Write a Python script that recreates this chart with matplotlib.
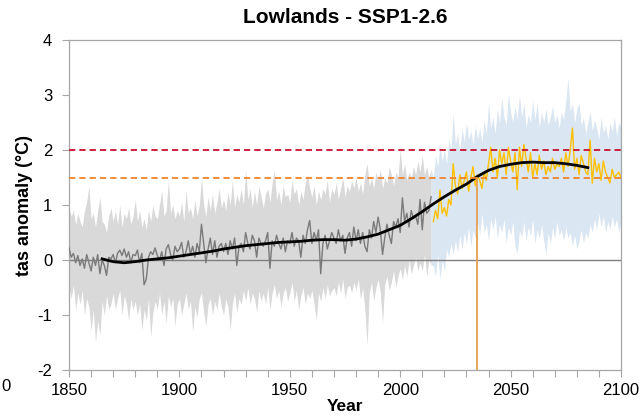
import numpy as np
import matplotlib
matplotlib.use("Agg")
import matplotlib.pyplot as plt

plt.rcParams['font.family'] = ['Liberation Sans', 'DejaVu Sans']
plt.rcParams['axes.unicode_minus'] = False

# ---------------- data ----------------
hist_years = list(range(1850, 2015))
hist_tas = [
    0.22, 0.05, 0.12, -0.05, 0.08, -0.10, 0.02, -0.15, 0.10, -0.05,
    -0.20, 0.05, -0.10, 0.10, -0.25, 0.00, -0.10, -0.28, 0.05, 0.02,
    0.10, -0.05, 0.12, 0.18, 0.08, 0.20, 0.05, 0.15, -0.05, 0.10,
    0.08, 0.18, -0.05, 0.12, -0.45, -0.35, 0.05, 0.15, 0.10, 0.22,
    0.08, 0.00, 0.15, -0.10, 0.20, 0.28, 0.10, 0.00, 0.25, 0.15,
    0.20, 0.32, 0.05, 0.15, 0.35, 0.10, 0.25, 0.05, 0.30, 0.15,
    0.65, 0.30, -0.05, 0.20, 0.40, 0.10, 0.35, 0.05, 0.25, 0.30,
    0.15, 0.30, 0.10, 0.35, 0.20, 0.40, -0.10, 0.25, 0.30, 0.15,
    0.50, 0.30, 0.20, 0.45, 0.35, 0.05, 0.40, 0.30, 0.25, 0.35,
    0.50, -0.15, 0.35, 0.25, 0.45, 0.30, 0.20, 0.40, 0.15, 0.35,
    0.30, 0.50, 0.25, 0.40, 0.35, 0.05, 0.45, 0.30, 0.55, 0.72,
    0.30, 0.50, 0.35, 0.55, -0.25, 0.30, 0.45, 0.20, 0.35, 0.50,
    0.40, 0.30, 0.55, 0.35, 0.45, 0.12, 0.40, 0.50, 0.25, 0.60,
    0.35, 0.55, 0.30, 0.50, 0.25, 0.15, 0.55, 0.40, 0.70, 0.50,
    0.78, 0.55, 0.10, 0.40, 0.65, 0.45, 0.30, 0.70, 0.60, 0.75,
    0.50, 1.13, 0.70, 0.85, 0.60, 0.90, 0.75, 0.80, 0.65, 1.10,
    0.55, 1.05, 0.85, 0.90, 1.15,
]
hist_hi = [
    0.95, 0.80, 0.90, 0.65, 0.85, 0.70, 0.60, 0.90, 1.05, 1.35,
    0.75, 0.85, 0.60, 0.90, 1.15, 0.70, 0.65, 0.50, 0.80, 0.95,
    0.70, 0.90, 0.65, 1.00, 0.60, 0.85, 0.75, 0.95, 0.65, 0.80,
    1.10, 0.70, 0.90, 0.60, 0.75, 0.55, 0.90, 0.70, 1.00, 0.80,
    0.75, 1.00, 1.27, 0.80, 0.90, 1.45, 0.85, 1.00, 0.75, 0.90,
    0.80, 1.05, 0.70, 1.27, 0.85, 0.95, 0.75, 1.10, 0.80, 1.00,
    1.50, 1.00, 0.80, 1.15, 0.90, 1.20, 0.85, 1.05, 1.30, 0.95,
    1.10, 0.90, 1.25, 1.00, 1.45, 0.95, 1.20, 1.05, 1.30, 1.00,
    1.64, 1.10, 1.30, 0.95, 1.25, 1.00, 1.35, 1.15, 0.95, 1.20,
    1.30, 1.05, 1.40, 1.64, 1.10, 1.25, 1.00, 1.35, 1.15, 1.20,
    1.05, 1.45, 1.20, 1.30, 1.00, 1.25, 1.10, 1.40, 1.55, 1.30,
    1.15, 1.35, 1.00, 1.25, 1.10, 1.30, 1.20, 1.45, 1.05, 1.30,
    1.20, 1.40, 1.10, 1.30, 1.50, 1.15, 1.35, 1.25, 1.45, 1.30,
    1.50, 1.25, 1.40, 1.20, 1.55, 1.76, 1.35, 1.50, 1.30, 1.60,
    1.45, 1.65, 1.30, 1.50, 1.40, 1.70, 1.55, 1.35, 1.60, 1.50,
    2.03, 1.55, 1.75, 1.45, 1.60, 1.50, 1.70, 1.55, 1.80, 1.60,
    1.90, 1.55, 1.70, 1.50, 1.65,
]
hist_lo = [
    -0.50, -0.70, -0.45, -0.90, -0.60, -0.80, -0.55, -1.00, -0.70, -0.85,
    -1.27, -0.90, -1.50, -1.10, -1.36, -0.75, -1.00, -0.65, -0.90, -0.80,
    -0.60, -0.90, -0.70, -0.55, -1.00, -0.65, -0.80, -1.10, -0.70, -0.90,
    -0.75, -1.00, -0.80, -1.27, -0.90, -1.10, -0.70, -1.40, -0.95, -0.75,
    -0.90, -0.60, -1.00, -0.75, -1.15, -0.65, -0.85, -0.70, -1.20, -0.80,
    -0.70, -1.00, -0.80, -0.60, -0.90, -0.75, -1.30, -0.85, -1.05, -0.70,
    -0.60, -0.95, -1.20, -0.80, -0.70, -1.00, -0.75, -0.90, -0.60, -0.85,
    -1.00, -0.70, -0.85, -1.27, -0.80, -0.60, -0.95, -0.70, -0.80, -0.55,
    -0.75, -0.50, -0.80, -0.60, -0.70, -0.95, -0.55, -0.75, -0.60, -0.80,
    -0.50, -0.90, -0.60, -0.45, -0.70, -0.55, -0.85, -0.60, -0.50, -0.75,
    -0.60, -0.40, -0.75, -0.55, -0.90, -0.65, -0.50, -0.80, -0.60, -0.70,
    -0.55, -0.80, -1.10, -0.60, -0.75, -0.50, -0.70, -0.45, -0.65, -0.55,
    -0.50, -0.65, -0.40, -0.60, -0.35, -0.70, -0.50, -0.45, -0.60, -0.40,
    -0.55, -0.35, -0.70, -0.50, -0.90, -1.55, -0.60, -0.40, -0.75, -0.50,
    -0.35, -0.60, -1.15, -0.45, -0.30, -0.55, -0.40, -0.20, -0.50, -0.30,
    -0.15, -0.35, -0.10, -0.30, 0.00, -0.25, -0.10, 0.05, -0.20, -0.05,
    -0.20, 0.10, -0.30, 0.00, -0.10,
]

fut_years = list(range(2015, 2101))
fut_tas = [
    0.70, 0.90, 0.75, 1.27, 0.85, 0.95, 0.80, 1.10, 1.00, 1.75,
    1.35, 1.20, 1.55, 1.30, 1.45, 1.60, 1.25, 1.50, 1.70, 1.35,
    1.55, 1.45, 1.30, 1.60, 1.45, 1.75, 2.05, 1.60, 1.85, 1.50,
    2.00, 1.75, 1.95, 1.55, 2.05, 1.80, 1.60, 1.95, 1.28, 2.05,
    1.70, 2.10, 1.85, 1.60, 1.95, 1.50, 1.75, 1.55, 1.90, 1.65,
    1.80, 1.55, 1.70, 1.60, 1.85, 1.65, 1.75, 1.70, 1.85, 1.60,
    1.95, 1.70, 2.00, 2.40, 1.65, 1.85, 1.55, 1.90, 1.75, 1.60,
    1.55, 2.18, 1.40, 1.85, 1.60, 1.75, 1.45, 1.80, 1.60, 1.50,
    1.40, 1.65, 1.50, 1.55, 1.60, 1.50,
]
fut_hi = [
    1.50, 1.90, 1.70, 2.10, 1.80, 2.00, 1.75, 2.20, 2.00, 2.67,
    2.10, 2.30, 1.95, 2.40, 2.15, 2.50, 2.20, 2.35, 2.10, 2.45,
    2.20, 2.40, 2.15, 2.55, 2.30, 2.85, 2.40, 2.60, 2.30, 2.75,
    2.50, 2.95, 2.60, 2.45, 3.03, 2.70, 2.50, 2.80, 2.55, 3.00,
    2.60, 2.85, 2.40, 2.65, 2.50, 2.90, 2.55, 2.85, 2.40, 2.70,
    2.50, 2.75, 2.45, 2.60, 2.80, 2.50, 2.65, 2.40, 2.70, 2.55,
    2.90, 3.30, 2.70, 2.85, 2.50, 2.75, 2.85, 2.45, 2.60, 2.30,
    2.50, 2.70, 2.35, 2.55, 2.40, 2.20, 2.60, 2.30, 2.45, 2.20,
    2.50, 2.35, 2.60, 2.25, 2.50, 2.40,
]
fut_lo = [
    -0.10, -0.30, 0.10, -0.35, 0.00, -0.20, 0.20, 0.05, 0.30, 0.10,
    0.35, 0.15, 0.45, 0.20, 0.50, 0.30, 0.60, 0.25, 0.55, 0.40,
    0.70, 0.45, 0.85, 0.50, 0.65, 0.35, 0.75, 0.55, 0.80, 0.40,
    0.65, 0.50, 0.75, 0.30, 0.60, 0.45, 0.70, 0.25, 0.12, 0.55,
    0.40, 0.70, 0.35, 0.60, 0.45, 0.75, 0.30, 0.55, 0.40, 0.65,
    0.35, 0.10, 0.50, 0.30, 0.60, 0.40, 0.70, 0.45, 0.55, 0.35,
    0.60, 0.40, 0.50, 0.25, 0.45, 0.20, 0.35, 0.55, 0.30, 0.50,
    0.40, 0.65, 0.50, 0.75, 0.55, 0.85, 0.60, 0.80, 0.50, 0.70,
    0.55, 0.80, 0.60, 0.75, 0.50, 0.70,
]

smooth_years = list(range(1865, 2086, 5))
smooth_tas = [
    0.02, -0.03, -0.05, -0.03, 0.00, 0.02, 0.04, 0.07, 0.10, 0.13,
    0.16, 0.20, 0.23, 0.26, 0.28, 0.30, 0.32, 0.33, 0.34, 0.36,
    0.37, 0.37, 0.36, 0.38, 0.42, 0.47, 0.55, 0.63, 0.75, 0.88,
    1.02, 1.15, 1.27, 1.38, 1.52, 1.63, 1.70, 1.74, 1.77, 1.78,
    1.77, 1.77, 1.75, 1.72, 1.68,
]

threshold_2 = 2.0
threshold_15 = 1.5
crossing_year = 2035
xticks = list(range(1850, 2101, 50))
yticks = list(range(-2, 5))

# ---------------- figure ----------------
W, H = 643, 419
fig = plt.figure(figsize=(W / 100, H / 100), dpi=100)
ax = fig.add_axes([69 / W, 1 - 370 / H, (621 - 69) / W, (370 - 40) / H])

ax.fill_between(hist_years, hist_lo, hist_hi, color='#d9d9d9', lw=0, zorder=1)
# future band joined to the last historical year so there is no gap
ax.fill_between([hist_years[-1]] + fut_years, [hist_lo[-1]] + fut_lo,
                [hist_hi[-1]] + fut_hi, color='#dae6f2', lw=0, zorder=1)

ax.axhline(0, color='#7f7f7f', lw=1.0, zorder=2)
ax.axhline(threshold_2, color='#c8102e', lw=1.3, ls=(0, (3.5, 2.2)), zorder=5)
ax.axhline(threshold_15, color='#f0832a', lw=1.3, ls=(0, (3.5, 2.2)), zorder=5)

ax.plot(hist_years, hist_tas, color='#7a7a7a', lw=1.0, zorder=3)
ax.plot(fut_years, fut_tas, color='#ffc000', lw=1.0, zorder=3)
ax.plot(smooth_years, smooth_tas, color='black', lw=2.0, zorder=4)

ax.plot([crossing_year, crossing_year], [-2, threshold_15], color='#e5a050', lw=1.3, zorder=4)

ax.set_xlim(1850, 2100)
ax.set_ylim(-2, 4)
ax.set_xticks(xticks)
ax.set_xticks(list(range(1850, 2101, 10)), minor=True)
ax.set_yticks(yticks)
ax.tick_params(axis='x', which='both', direction='out', length=5, width=0.8,
               color='#a6a6a6', labelsize=12, pad=4)
ax.tick_params(axis='y', which='both', direction='out', length=5, width=0.8,
               color='#a6a6a6', labelsize=12, pad=7)
for s in ax.spines.values():
    s.set_color('#a6a6a6')
    s.set_linewidth(0.9)

ax.set_xlabel('Year', fontsize=12.5, fontweight='bold', labelpad=1)
ax.set_ylabel('tas anomaly (°C)', fontsize=13, fontweight='bold', labelpad=3)
ax.set_title('Lowlands - SSP1-2.6', fontsize=15, fontweight='bold', pad=12)

# stray tick label fragment visible at the far left of the reference
fig.text(1 / W, 1 - 386 / H, '0', ha='left', va='center', fontsize=12)

fig.savefig('out.png', dpi=100)
